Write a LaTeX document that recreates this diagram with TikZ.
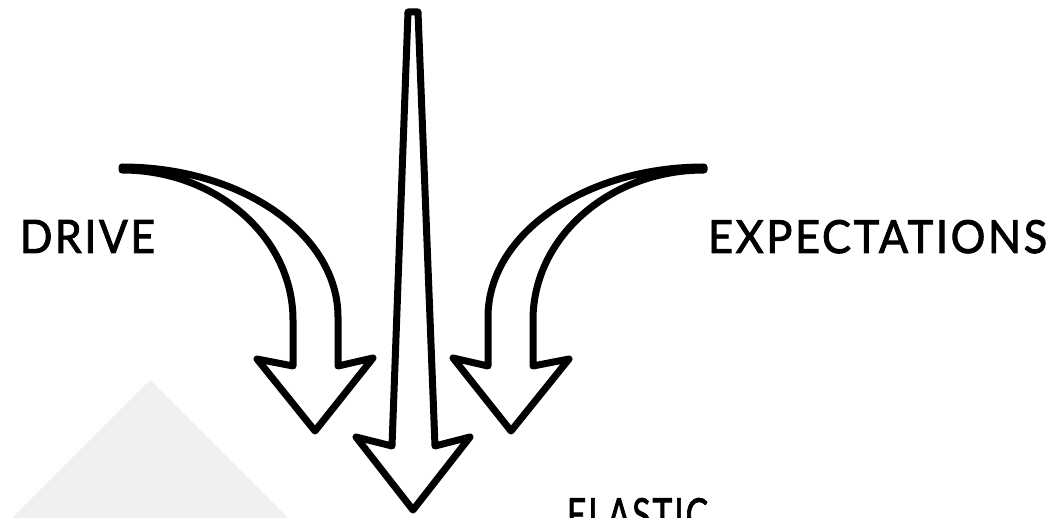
\documentclass[tikz,border=0pt]{standalone}
\usepackage{fontspec}
\newfontfamily\labelfont[LetterSpace=6,FakeBold=2]{Lato}
\definecolor{paleshade}{RGB}{240,240,240}
\tikzset{
  arrowshape/.style={draw=black, fill=white, line width=7pt, line join=round},
  lbl/.style={inner sep=0pt, outer sep=0pt, anchor=base west}
}
\begin{document}
\begin{tikzpicture}[x=1pt, y=-1pt]
\useasboundingbox (0,0) rectangle (1054,518);
\begin{scope}
\clip (0,0) rectangle (1054,518);
% pale triangle
\fill[paleshade] (150,380) -- (-20,550) -- (320,550) -- cycle;
% left curved arrow
\draw[arrowshape] (122,167) .. controls (241,167) and (338,234) .. (338,317)
  -- (338,366) -- (373,358) -- (315,431) -- (257,359) -- (293,366) -- (293,320)
  .. controls (293,237) and (216,170) .. (122,170) -- cycle;
% right curved arrow
\draw[arrowshape] (704,167) .. controls (585,167) and (488,234) .. (488,317)
  -- (488,366) -- (453,358) -- (511,431) -- (569,359) -- (533,366) -- (533,320)
  .. controls (533,237) and (610,170) .. (704,170) -- cycle;
% central straight arrow
\draw[arrowshape] (408,12) -- (418,12) -- (435,446) -- (470,437) -- (413,510)
  -- (356,437) -- (392,446) -- cycle;
% labels
\node[lbl] (drive) at (20,253) {\resizebox{135pt}{33pt}{\labelfont DRIVE}};
\node[lbl] (expect) at (708,253) {\resizebox{339pt}{33pt}{\labelfont EXPECTATIONS}};
\node[lbl] (elastic) at (567,531) {\resizebox{141pt}{33pt}{\labelfont ELASTIC}};
\end{scope}
\end{tikzpicture}
\end{document}
